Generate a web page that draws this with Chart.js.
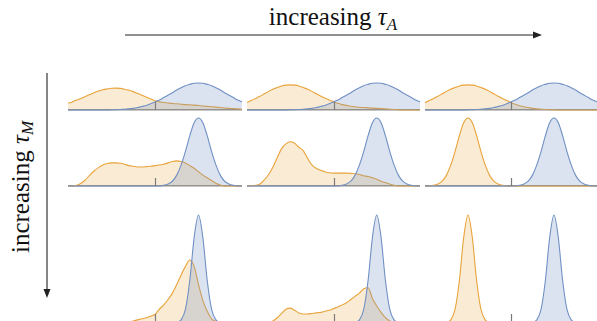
<!DOCTYPE html>
<html>
<head>
<meta charset="utf-8">
<script src="https://cdn.jsdelivr.net/npm/chart.js@4.4.0/dist/chart.umd.min.js"></script>
<style>
  html, body { margin: 0; padding: 0; background: #fff; }
  body { width: 597px; height: 321px; position: relative; overflow: hidden; color: #111; }
  canvas { position: absolute; }
  .label { position: absolute; font-family: "Liberation Serif", "Times New Roman", Times, "DejaVu Serif", "Noto Serif", Tinos, serif; font-size: 25px; line-height: 25px; white-space: nowrap; }
  .label sub { font-size: 0.68em; vertical-align: -0.28em; line-height: 0; font-style: italic; }
  #arrows { position: absolute; left: 0; top: 0; }
</style>
</head>
<body>
<svg id="arrows" width="597" height="321">
  <line x1="125" y1="35" x2="535" y2="35" stroke="#222" stroke-width="1.1"/>
  <polygon points="533,31.5 542,35 533,38.5" fill="#222"/>
  <line x1="47" y1="73" x2="47" y2="291" stroke="#222" stroke-width="1.1"/>
  <polygon points="43.5,289 47,298 50.5,289" fill="#222"/>
</svg>
<div class="label" style="left:333px; top:4px; transform:translateX(-50%);">increasing <i>τ</i><sub>A</sub></div>
<div class="label" style="left:20px; top:187px; transform:translate(-50%,-50%) rotate(-90deg);">increasing <i>τ</i><sub>M</sub></div>

<script>
// ===== DATA =====
// common x grid (0 .. 1), tick in the middle
const xs = [0, 0.025, 0.05, 0.075, 0.1, 0.125, 0.15, 0.175, 0.2, 0.225,
            0.25, 0.275, 0.3, 0.325, 0.35, 0.375, 0.4, 0.425, 0.45, 0.475,
            0.5, 0.525, 0.55, 0.575, 0.6, 0.625, 0.65, 0.675, 0.7, 0.725,
            0.75, 0.775, 0.8, 0.825, 0.85, 0.875, 0.9, 0.925, 0.95, 0.975, 1];
const tickValues = [0.5];

// row 1 (small tau_M)
const blueRow1 = [0, 0, 0, 0, 0, 0, 0, 0, 0, 0,
                  0.01, 0.01, 0.02, 0.03, 0.04, 0.06, 0.09, 0.13, 0.17, 0.23,
                  0.30, 0.37, 0.46, 0.55, 0.64, 0.74, 0.82, 0.90, 0.95, 0.99,
                  1.00, 0.99, 0.95, 0.90, 0.82, 0.74, 0.64, 0.55, 0.46, 0.37, 0.30];
const orangeR1C1 = [0.25, 0.30, 0.37, 0.43, 0.50, 0.57, 0.64, 0.70, 0.75, 0.78,
                    0.805, 0.81, 0.80, 0.77, 0.73, 0.68, 0.61, 0.55, 0.48, 0.41,
                    0.34, 0.30, 0.28, 0.26, 0.24, 0.23, 0.215, 0.20, 0.19, 0.18,
                    0.165, 0.15, 0.135, 0.12, 0.105, 0.09, 0.075, 0.06, 0.05, 0.04, 0.03];
const orangeR1C2 = [0.28, 0.35, 0.43, 0.51, 0.60, 0.69, 0.77, 0.83, 0.89, 0.92,
                    0.93, 0.92, 0.89, 0.83, 0.77, 0.69, 0.60, 0.52, 0.44, 0.37,
                    0.31, 0.25, 0.20, 0.17, 0.14, 0.12, 0.10, 0.09, 0.08, 0.07,
                    0.06, 0.05, 0.04, 0.03, 0.02, 0.01, 0, 0, 0, 0, 0];
const orangeR1C3 = [0.27, 0.35, 0.43, 0.51, 0.60, 0.69, 0.77, 0.83, 0.89, 0.92,
                    0.93, 0.92, 0.89, 0.83, 0.77, 0.69, 0.60, 0.51, 0.43, 0.35,
                    0.27, 0.21, 0.16, 0.12, 0.09, 0.06, 0.04, 0.03, 0.02, 0.01,
                    0.01, 0, 0, 0, 0, 0, 0, 0, 0, 0, 0];

// row 2
const blueRow2 = [0, 0, 0, 0, 0, 0, 0, 0, 0, 0,
                  0, 0, 0, 0, 0, 0, 0, 0, 0, 0,
                  0, 0, 0.01, 0.03, 0.07, 0.16, 0.31, 0.51, 0.74, 0.93,
                  1.00, 0.93, 0.74, 0.51, 0.31, 0.16, 0.07, 0.03, 0.01, 0, 0];
const orangeR2C1 = [0, 0, 0.01, 0.04, 0.09, 0.16, 0.22, 0.27, 0.31, 0.33,
                    0.34, 0.34, 0.335, 0.32, 0.30, 0.29, 0.28, 0.28, 0.285, 0.29,
                    0.30, 0.31, 0.32, 0.34, 0.36, 0.37, 0.36, 0.34, 0.30, 0.26,
                    0.21, 0.16, 0.12, 0.08, 0.04, 0.015, 0, 0, 0, 0, 0];
const orangeR2C2 = [0, 0.005, 0.01, 0.03, 0.09, 0.17, 0.28, 0.42, 0.55, 0.62,
                    0.65, 0.63, 0.57, 0.52, 0.41, 0.31, 0.26, 0.23, 0.21, 0.195,
                    0.19, 0.19, 0.19, 0.19, 0.185, 0.18, 0.17, 0.15, 0.14, 0.12,
                    0.10, 0.07, 0.05, 0.03, 0.01, 0, 0, 0, 0, 0, 0];
const orangeR2C3 = [0, 0, 0.01, 0.03, 0.07, 0.16, 0.31, 0.51, 0.74, 0.93,
                    1.00, 0.93, 0.74, 0.51, 0.31, 0.16, 0.07, 0.03, 0.01, 0,
                    0, 0, 0, 0, 0, 0, 0, 0, 0, 0,
                    0, 0, 0, 0, 0, 0, 0, 0, 0, 0, 0];

// row 3 (large tau_M)
const blueRow3 = [0, 0, 0, 0, 0, 0, 0, 0, 0, 0,
                  0, 0, 0, 0, 0, 0, 0, 0, 0, 0,
                  0, 0, 0, 0, 0, 0, 0.02, 0.12, 0.39, 0.79,
                  1.00, 0.79, 0.39, 0.12, 0.02, 0, 0, 0, 0, 0, 0];
const orangeR3C1 = [0, 0, 0, 0, 0, 0, 0, 0, 0, 0,
                    0, 0, 0, 0, 0, 0.01, 0.02, 0.03, 0.04, 0.055,
                    0.07, 0.12, 0.16, 0.21, 0.27, 0.35, 0.44, 0.52, 0.58, 0.52,
                    0.35, 0.20, 0.10, 0.03, 0.005, 0, 0, 0, 0, 0, 0];
const orangeR3C2 = [0, 0, 0, 0, 0, 0, 0.01, 0.04, 0.08, 0.12,
                    0.13, 0.11, 0.085, 0.075, 0.075, 0.08, 0.085, 0.09, 0.10, 0.11,
                    0.125, 0.14, 0.16, 0.18, 0.21, 0.24, 0.27, 0.31, 0.32, 0.22,
                    0.15, 0.09, 0.04, 0.01, 0, 0, 0, 0, 0, 0, 0];
const orangeR3C3 = [0, 0, 0, 0, 0, 0, 0.02, 0.12, 0.39, 0.79,
                    1.00, 0.79, 0.39, 0.12, 0.02, 0, 0, 0, 0, 0,
                    0, 0, 0, 0, 0, 0, 0, 0, 0, 0,
                    0, 0, 0, 0, 0, 0, 0, 0, 0, 0, 0];

const panels = [
    [blueRow1, orangeR1C1], [blueRow1, orangeR1C2], [blueRow1, orangeR1C3],
    [blueRow2, orangeR2C1], [blueRow2, orangeR2C2], [blueRow2, orangeR2C3],
    [blueRow3, orangeR3C1], [blueRow3, orangeR3C2], [blueRow3, orangeR3C3]
];

// ===== LAYOUT =====
const colLeft = [68, 247, 425];
const colWidth = [174, 173, 172];
const rowTop = [81, 116, 213];
const rowHeight = [31, 72, 111];

const BLUE = 'rgb(112, 144, 196)';
const BLUE_FILL = 'rgba(112, 144, 196, 0.25)';
const ORANGE = 'rgb(232, 163, 58)';
const ORANGE_FILL = 'rgba(232, 163, 58, 0.22)';

// small tick in the middle of the baseline
const centreTick = {
    id: 'centreTick',
    afterDraw(chart) {
        const sx = chart.scales.x;
        const ctx = chart.ctx;
        ctx.save();
        ctx.strokeStyle = '#7a7a7a';
        ctx.lineWidth = 1.2;
        tickValues.forEach(v => {
            const px = Math.round(sx.getPixelForValue(v)) + 0.5;
            ctx.beginPath();
            ctx.moveTo(px, sx.top);
            ctx.lineTo(px, sx.top - 8);
            ctx.stroke();
        });
        ctx.restore();
    }
};

function makeSeries(vals, line, fill) {
    return {
        data: xs.map((x, i) => ({ x: x, y: vals[i] })),
        borderColor: line,
        backgroundColor: fill,
        borderWidth: 1.1,
        fill: 'origin',
        pointRadius: 0,
        cubicInterpolationMode: 'monotone',
        clip: false
    };
}

panels.forEach((p, k) => {
    const row = Math.floor(k / 3);
    const col = k % 3;
    const canvas = document.createElement('canvas');
    canvas.width = colWidth[col];
    canvas.height = rowHeight[row];
    canvas.style.left = colLeft[col] + 'px';
    canvas.style.top = rowTop[row] + 'px';
    document.body.appendChild(canvas);

    new Chart(canvas, {
        type: 'line',
        data: {
            datasets: [
                makeSeries(p[0], BLUE, BLUE_FILL),
                makeSeries(p[1], ORANGE, ORANGE_FILL)
            ]
        },
        options: {
            responsive: false,
            animation: false,
            devicePixelRatio: 1,
            layout: { padding: { top: 2, bottom: 2, left: 0, right: 0 } },
            plugins: { legend: { display: false }, tooltip: { enabled: false } },
            scales: {
                x: {
                    type: 'linear',
                    min: 0,
                    max: 1,
                    z: 1,
                    ticks: { display: false },
                    grid: { display: false, drawTicks: false },
                    border: { display: true, color: '#8f8f8f', width: 1.5 }
                },
                y: {
                    min: 0,
                    max: 1,
                    display: false
                }
            }
        },
        plugins: [centreTick]
    });
});
</script>
</body>
</html>
